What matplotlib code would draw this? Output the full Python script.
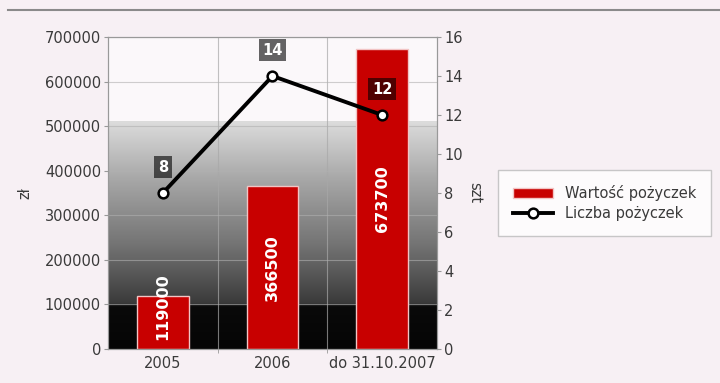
import matplotlib
matplotlib.use("Agg")
import matplotlib.pyplot as plt
import numpy as np
from matplotlib.lines import Line2D
from matplotlib.patches import Patch
from matplotlib.colors import LinearSegmentedColormap

categories = ["2005", "2006", "do 31.10.2007"]
loan_values = [119000, 366500, 673700]
loan_counts = [8, 14, 12]
left_ticks = [0, 100000, 200000, 300000, 400000, 500000, 600000, 700000]
right_ticks = [0, 2, 4, 6, 8, 10, 12, 14, 16]

plt.rcParams['font.family'] = ['DejaVu Sans']
fs = 10.5
tc = '#3a3a3a'

bg = '#f7f0f4'
fig = plt.figure(figsize=(7.2, 3.83), dpi=100, facecolor=bg)
ax = fig.add_axes([108/720, 34/383, (437-108)/720, (349-37)/383])
ax.set_facecolor('#fbf8fa')

x = np.arange(len(categories))
ax.set_xlim(-0.5, len(categories) - 0.5)
ax.set_ylim(0, 700000)

grad = np.linspace(0, 1, 512).reshape(-1, 1)
cmap = LinearSegmentedColormap.from_list(
    'g', [(0.0, '#050505'), (0.185, '#0a0a0a'), (0.2, '#3a3a3a'),
          (0.45, '#727272'), (0.75, '#a8a8a8'), (1.0, '#dcdcdc')])
ax.imshow(grad, cmap=cmap, origin='lower', aspect='auto',
          extent=(-0.5, len(categories) - 0.5, 0, 510000), zorder=0,
          interpolation='bilinear')

ax.set_yticks(left_ticks)
ax.set_yticklabels([str(v) for v in left_ticks])
ax.yaxis.grid(True, color='#b0b0b0', lw=0.8, alpha=0.6, zorder=1)
ax.set_xticks(x)
ax.set_xticklabels(categories)
ax.set_xticks(x[:-1] + 0.5, minor=True)
ax.xaxis.grid(True, which='minor', color='#a8a8a8', lw=0.8, alpha=0.7, zorder=1)
ax.tick_params(axis='x', which='major', length=0, pad=5)
ax.tick_params(axis='x', which='minor', length=3, color='#999999')
ax.tick_params(axis='y', length=3, color='#999999', labelsize=fs, labelcolor=tc, pad=2)
ax.tick_params(axis='x', labelsize=fs, labelcolor=tc)
ax.set_axisbelow(True)

ax.bar(x, loan_values, width=0.47, color='#c80000', edgecolor='#f2c4c4', linewidth=1, zorder=2)
for xi, v in zip(x, loan_values):
    ax.text(xi, max(v / 2, 95000), str(v), rotation=90, ha='center', va='center',
            color='white', fontsize=11.5, fontweight='bold', zorder=3)

for s in ax.spines.values():
    s.set_color('#999999')
    s.set_linewidth(0.8)

ax.set_ylabel('zł', fontsize=fs, color=tc, labelpad=9)

ax2 = ax.twinx()
ax2.set_ylim(0, 16)
ax2.set_yticks(right_ticks)
ax2.set_yticklabels([str(v) for v in right_ticks])
ax2.tick_params(axis='y', length=3, color='#999999', labelsize=fs, labelcolor=tc, pad=2)
for s in ax2.spines.values():
    s.set_color('#999999')
    s.set_linewidth(0.8)
ax2.set_ylabel('szt', fontsize=fs, color=tc, rotation=270, labelpad=14)

ax2.plot(x, loan_counts, color='black', lw=2.8, marker='o', markersize=7,
         markerfacecolor='white', markeredgecolor='black', markeredgewidth=1.8, zorder=5)
for xi, c in zip(x, loan_counts):
    ax2.annotate(str(c), (xi, c), xytext=(0, 18.5), textcoords='offset points',
                 ha='center', va='center', color='white', fontsize=10.5, fontweight='bold',
                 bbox=dict(boxstyle='square,pad=0.25', fc='black', ec='none', alpha=0.6), zorder=6)

fig.add_artist(Line2D([8/720, 1], [1 - 10/383, 1 - 10/383], color='#8a8a8a', lw=1.5))

handles = [Patch(facecolor='#c80000', edgecolor='#f2c4c4'),
           Line2D([0], [0], color='black', lw=2.8, marker='o', markersize=7,
                  markerfacecolor='white', markeredgecolor='black', markeredgewidth=1.8)]
leg = fig.legend(handles, ['Wartość pożyczek', 'Liczba pożyczek'],
                 loc='center left', bbox_to_anchor=(498/720, 1 - 203/383),
                 borderaxespad=0, frameon=True, fontsize=fs, fancybox=False, handlelength=2.8,
                 borderpad=1.0, labelspacing=0.35, handletextpad=0.8)
leg.get_frame().set_edgecolor('#bbbbbb')
leg.get_frame().set_facecolor('white')
for t in leg.get_texts():
    t.set_color(tc)

fig.savefig('out.png', dpi=100, facecolor=bg)
